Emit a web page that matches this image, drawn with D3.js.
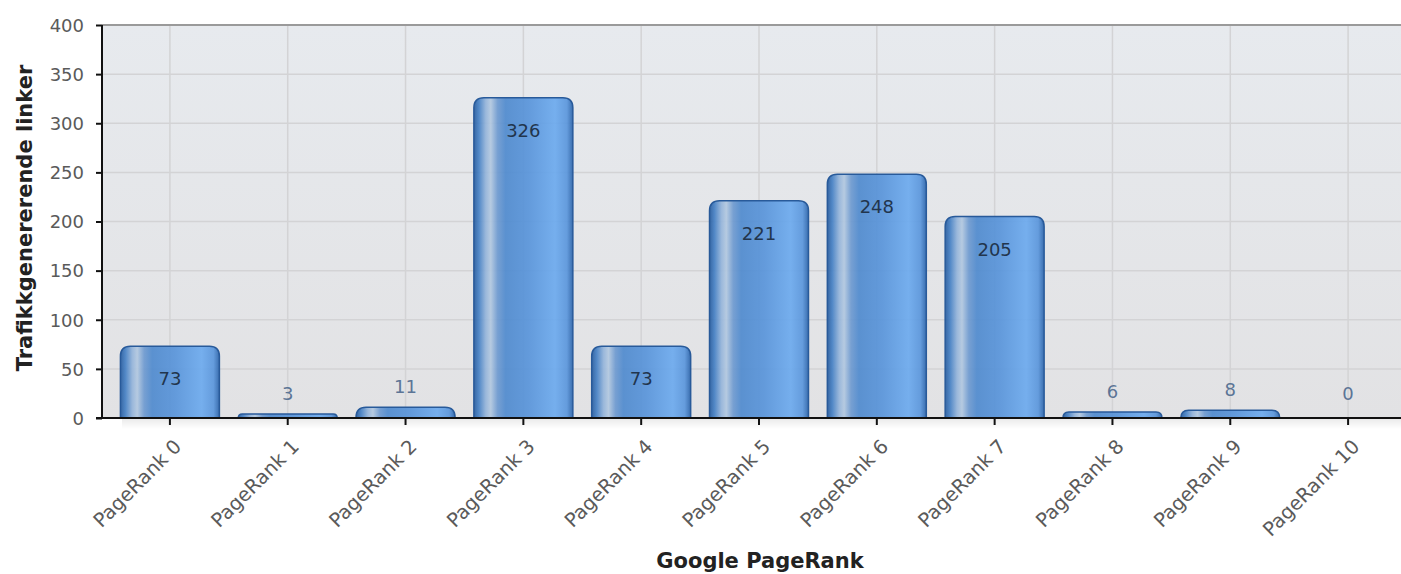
<!DOCTYPE html>
<html>
<head>
<meta charset="utf-8">
<script src="https://cdn.jsdelivr.net/npm/d3@7"></script>
<style>
  html, body { margin: 0; padding: 0; background: #fff; }
  svg { display: block; font-family: "DejaVu Sans", Verdana, sans-serif; }
</style>
</head>
<body>
<svg id="chart" width="1401" height="574"></svg>
<script>
// ==== Data ====
const categories = ["PageRank 0","PageRank 1","PageRank 2","PageRank 3","PageRank 4","PageRank 5",
                    "PageRank 6","PageRank 7","PageRank 8","PageRank 9","PageRank 10"];
const values = [73, 3, 11, 326, 73, 221, 248, 205, 6, 8, 0];
const yTicks = [0, 50, 100, 150, 200, 250, 300, 350, 400];
const xTitle = "Google PageRank";
const yTitle = "Trafikkgenererende linker";

// ==== Layout ====
const plot = { left: 102, top: 25, right: 1401, bottom: 418 };

const svg = d3.select("#chart");
const defs = svg.append("defs");

const x = d3.scaleBand()
  .domain(categories)
  .range([111, 1407])
  .paddingInner(0.16)
  .paddingOuter(0.08);

const y = d3.scaleLinear().domain([0, 400]).range([plot.bottom, plot.top]);

// background gradient
const bg = defs.append("linearGradient").attr("id", "bg").attr("x1", 0).attr("y1", 0).attr("x2", 0).attr("y2", 1);
bg.append("stop").attr("offset", "0%").attr("stop-color", "#e7eaee");
bg.append("stop").attr("offset", "100%").attr("stop-color", "#e2e2e4");

// bar gradient (horizontal, glassy highlight on the left)
const bar = defs.append("linearGradient").attr("id", "barGrad").attr("x1", 0).attr("y1", 0).attr("x2", 1).attr("y2", 0);
[
  [0, "#285c9e"], [0.05, "#4580c4"], [0.12, "#94b4da"], [0.17, "#b2c8e0"],
  [0.24, "#6e9ad0"], [0.32, "#4f8ace"], [0.55, "#5894da"], [0.82, "#6caaee"],
  [0.94, "#5a96dc"], [1, "#2c64aa"]
].forEach(([o, c]) => bar.append("stop").attr("offset", o).attr("stop-color", c));

const shadow = defs.append("linearGradient").attr("id", "shadow").attr("x1", 0).attr("y1", 0).attr("x2", 0).attr("y2", 1);
shadow.append("stop").attr("offset", "0%").attr("stop-color", "#000").attr("stop-opacity", 0.08);
shadow.append("stop").attr("offset", "100%").attr("stop-color", "#000").attr("stop-opacity", 0);

// ==== Plot background ====
svg.append("rect")
  .attr("x", plot.left).attr("y", plot.top)
  .attr("width", plot.right - plot.left).attr("height", plot.bottom - plot.top)
  .attr("fill", "url(#bg)");

// faint shadow under the x axis
svg.append("rect")
  .attr("x", plot.left + 20).attr("y", plot.bottom + 1)
  .attr("width", plot.right - plot.left).attr("height", 10)
  .attr("fill", "url(#shadow)");

// grid
const grid = svg.append("g").attr("stroke", "#d3d3d5").attr("stroke-width", 1.5);
grid.selectAll("line.h").data(yTicks.filter(t => t > 0 && t < 400)).join("line")
  .attr("x1", plot.left).attr("x2", plot.right)
  .attr("y1", d => y(d)).attr("y2", d => y(d));
grid.selectAll("line.v").data(categories).join("line")
  .attr("x1", d => x(d) + x.bandwidth() / 2).attr("x2", d => x(d) + x.bandwidth() / 2)
  .attr("y1", plot.top).attr("y2", plot.bottom);

// top border
svg.append("line")
  .attr("x1", plot.left).attr("x2", plot.right)
  .attr("y1", plot.top).attr("y2", plot.top)
  .attr("stroke", "#9a9a9a").attr("stroke-width", 2);

// ==== Bars ====
function barPath(x0, w, yTop, yBase) {
  const h = yBase - yTop;
  const r = Math.min(10, h, w / 2);
  return `M${x0},${yBase} L${x0},${yTop + r} Q${x0},${yTop} ${x0 + r},${yTop} ` +
         `L${x0 + w - r},${yTop} Q${x0 + w},${yTop} ${x0 + w},${yTop + r} L${x0 + w},${yBase} Z`;
}

const data = categories.map((c, i) => ({ cat: c, val: values[i] }));

svg.append("g").selectAll("path").data(data.filter(d => d.val > 0)).join("path")
  .attr("d", d => {
    const top = Math.min(y(d.val), plot.bottom - 4);
    return barPath(x(d.cat), x.bandwidth(), top, plot.bottom);
  })
  .attr("fill", "url(#barGrad)")
  .attr("fill-opacity", 0.92)
  .attr("stroke", "#285a9a")
  .attr("stroke-width", 1.5);

// value labels
svg.append("g").selectAll("text").data(data).join("text")
  .attr("x", d => x(d.cat) + x.bandwidth() / 2)
  .attr("y", d => d.val > 30 ? y(d.val) + 39 : Math.min(y(d.val), plot.bottom - 4) - 14)
  .attr("text-anchor", "middle")
  .attr("font-size", 18)
  .attr("fill", d => d.val > 30 ? "#22354d" : "#5c7596")
  .text(d => d.val);

// ==== Axes ====
const yAxis = svg.append("g")
  .attr("transform", `translate(${plot.left},0)`)
  .call(d3.axisLeft(y).tickValues(yTicks).tickSize(6).tickPadding(12));
yAxis.select(".domain").attr("stroke", "#111").attr("stroke-width", 2).attr("d", `M0,${plot.top}V${plot.bottom}`);
yAxis.selectAll(".tick line").attr("stroke", "#111").attr("stroke-width", 2);
yAxis.selectAll(".tick text")
  .attr("font-family", "DejaVu Sans, sans-serif")
  .attr("font-size", 18).attr("fill", "#5a5a5a").attr("dy", "0.35em");

const xAxis = svg.append("g")
  .attr("transform", `translate(0,${plot.bottom})`)
  .call(d3.axisBottom(x).tickSize(7).tickSizeOuter(0).tickPadding(4));
xAxis.select(".domain").attr("stroke", "#111").attr("stroke-width", 2).attr("d", `M${plot.left - 6},0H${plot.right}`);
xAxis.selectAll(".tick line").attr("stroke", "#111").attr("stroke-width", 2);
xAxis.selectAll(".tick text")
  .attr("font-family", "DejaVu Sans, sans-serif")
  .attr("font-size", 19.5).attr("fill", "#5a5a5a")
  .attr("text-anchor", "end")
  .attr("dy", "0.35em")
  .attr("transform", "translate(0,17) rotate(-45)");

// ==== Titles ====
svg.append("text")
  .attr("x", 760).attr("y", 568)
  .attr("text-anchor", "middle")
  .attr("font-size", 21).attr("font-weight", "bold").attr("fill", "#222")
  .text(xTitle);

svg.append("text")
  .attr("transform", `translate(32,218) rotate(-90)`)
  .attr("text-anchor", "middle")
  .attr("font-size", 21).attr("font-weight", "bold").attr("fill", "#222")
  .text(yTitle);
</script>
</body>
</html>
